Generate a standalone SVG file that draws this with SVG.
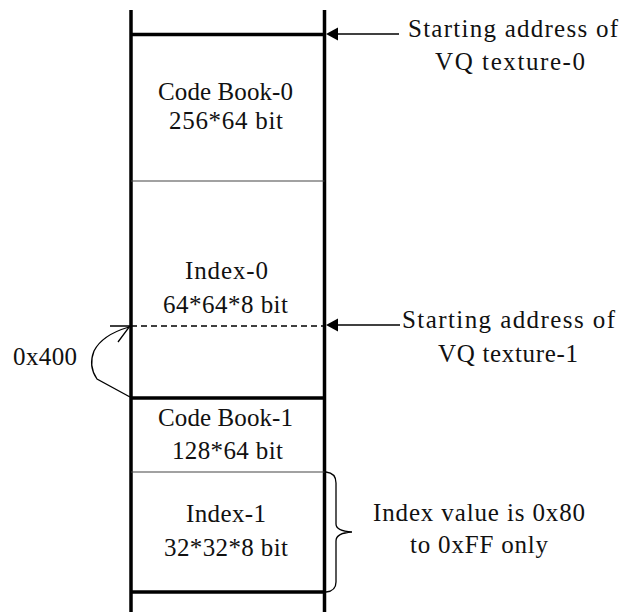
<svg xmlns="http://www.w3.org/2000/svg" width="625" height="612" viewBox="0 0 625 612">
<style>
text{font-family:'Liberation Serif',Tinos,'Times New Roman',Times,serif;font-size:25px;fill:#111;}
.thick{stroke:#000;stroke-width:3.5;fill:none;}
.thin{stroke:#444;stroke-width:1.2;fill:none;}
.ln{stroke:#000;stroke-width:1.3;fill:none;}
</style>
<rect width="625" height="612" fill="#fff"/>
<g id="memory">
<line class="thick" x1="131" y1="10" x2="131" y2="612"/>
<line class="thick" x1="324.5" y1="10" x2="324.5" y2="612"/>
<line class="thick" x1="131" y1="34.5" x2="324.5" y2="34.5"/>
<line class="thin" x1="131" y1="181" x2="324.5" y2="181"/>
<line x1="131" y1="326" x2="324.5" y2="326" stroke="#000" stroke-width="1.5" stroke-dasharray="6,4"/>
<line class="thick" x1="131" y1="398" x2="324.5" y2="398"/>
<line class="thin" x1="131" y1="472" x2="324.5" y2="472"/>
<line class="thick" x1="131" y1="592" x2="324.5" y2="592"/>
</g>
<g id="codebook0">
<text x="158" y="100" textLength="135" lengthAdjust="spacing">Code Book-0</text>
<text x="169" y="129" textLength="114" lengthAdjust="spacing">256*64 bit</text>
</g>
<g id="index0">
<text x="185" y="279" textLength="83" lengthAdjust="spacing">Index-0</text>
<text x="163" y="313" textLength="125" lengthAdjust="spacing">64*64*8 bit</text>
</g>
<g id="codebook1">
<text x="158" y="426" textLength="135" lengthAdjust="spacing">Code Book-1</text>
<text x="172" y="459" textLength="111" lengthAdjust="spacing">128*64 bit</text>
</g>
<g id="index1">
<text x="186" y="522" textLength="80" lengthAdjust="spacing">Index-1</text>
<text x="164" y="556" textLength="124" lengthAdjust="spacing">32*32*8 bit</text>
</g>
<g id="label-vq0">
<text x="408" y="37" textLength="210" lengthAdjust="spacing">Starting address of</text>
<text x="435" y="70" textLength="150" lengthAdjust="spacing">VQ texture-0</text>
</g>
<g id="label-vq1">
<text x="402" y="328" textLength="213" lengthAdjust="spacing">Starting address of</text>
<text x="438" y="362" textLength="140" lengthAdjust="spacing">VQ texture-1</text>
</g>
<g id="label-index">
<text x="373" y="521" textLength="212" lengthAdjust="spacing">Index value is 0x80</text>
<text x="410" y="553" textLength="138" lengthAdjust="spacing">to 0xFF only</text>
</g>
<g id="label-offset">
<text x="13" y="365" textLength="64" lengthAdjust="spacing">0x400</text>
</g>
<g id="connectors">
<line class="ln" x1="399" y1="34" x2="336" y2="34"/>
<polygon points="326,34 338,27.5 338,40.5" fill="#000"/>
<line class="ln" x1="400" y1="325" x2="336" y2="325"/>
<polygon points="326,325 338,318.5 338,331.5" fill="#000"/>
<path class="ln" d="M130,397 L97,379 Q88,366 94,351 Q102,335 129,327"/>
<polyline class="ln" points="110,326 130,326 118,342"/>
<path class="ln" d="M326,472 Q336,473 336,483 L336,524 Q336,531 352,532 Q336,533 336,541 L336,582 Q336,591 326,592"/>
</g>
</svg>
